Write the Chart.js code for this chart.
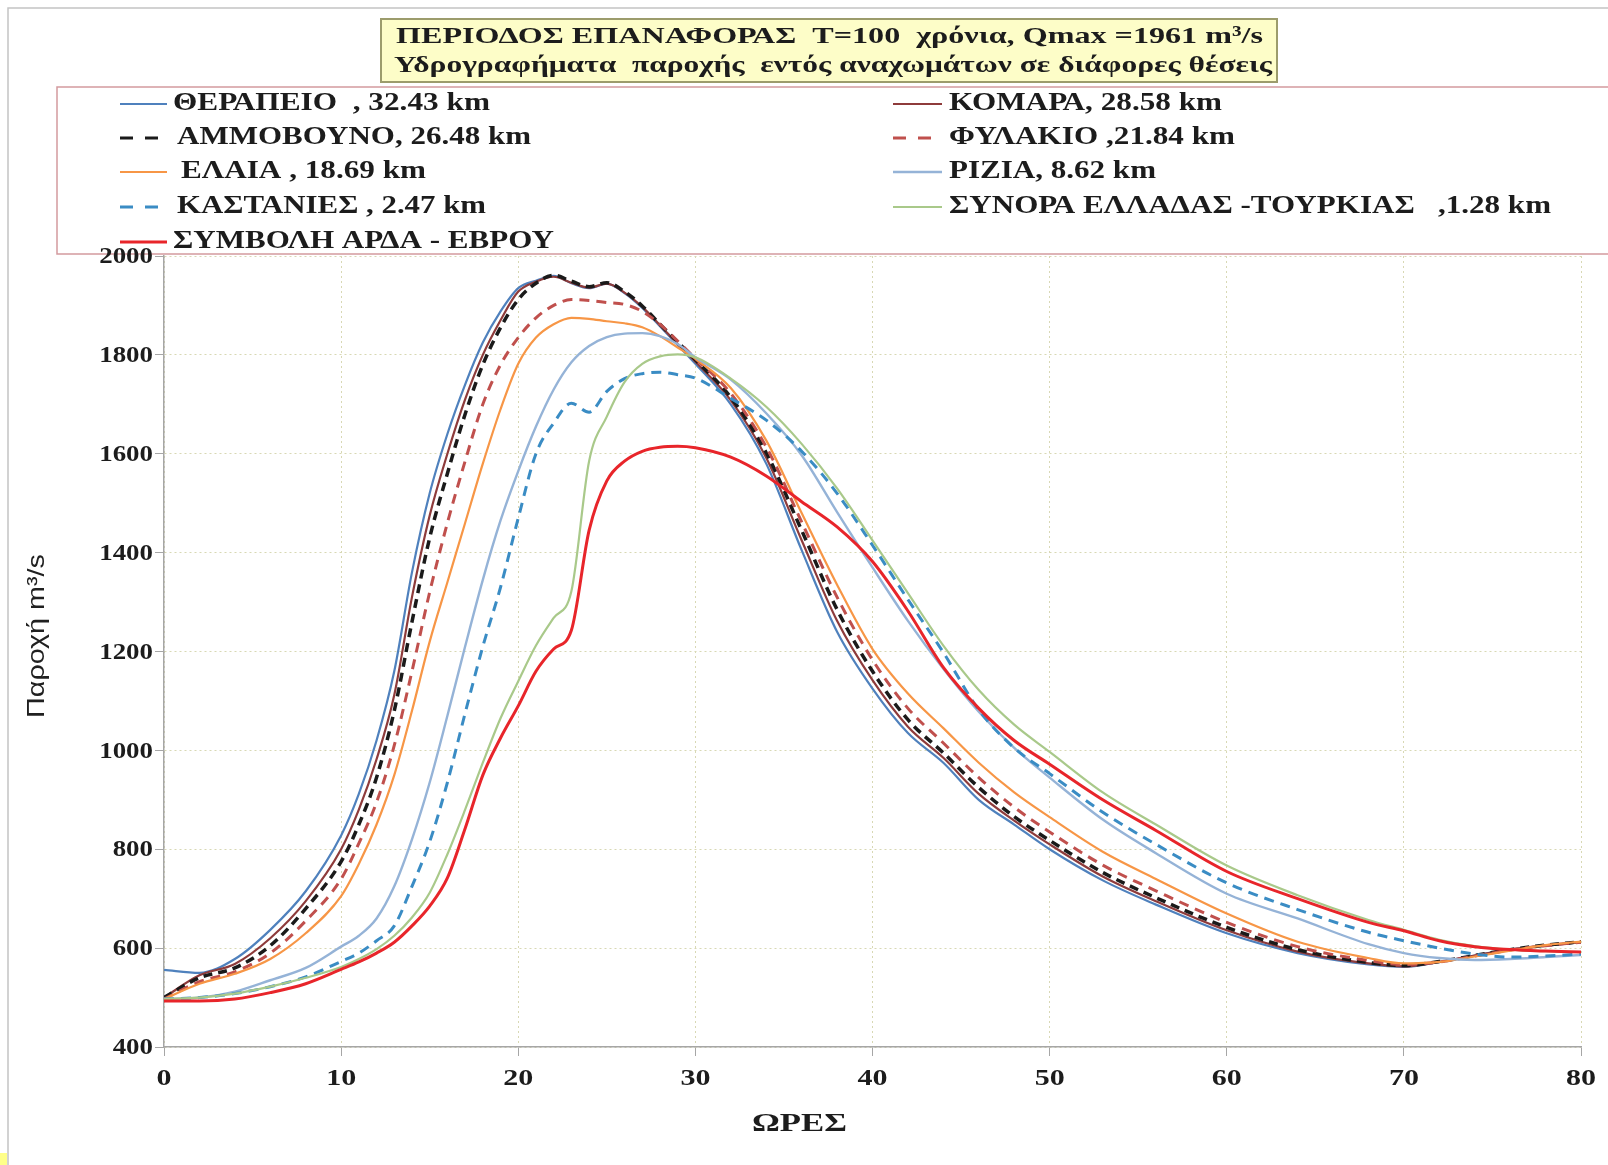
<!DOCTYPE html>
<html>
<head>
<meta charset="utf-8">
<script src="https://cdn.jsdelivr.net/npm/chart.js@4.4.0/dist/chart.umd.min.js"></script>
<style>
html,body{margin:0;padding:0;background:#fff;}
#wrap{width:1608px;height:1165px;position:relative;}
</style>
</head>
<body>
<div id="wrap"><canvas id="c" width="1608" height="1165"></canvas></div>
<script>
// ---------------- DATA ----------------
const hours = [0,2,4,6,8,10,11,12,13,14,15,16,17,18,19,20,21,22,23,24,25,26,27,28,29,30,32,34,36,38,40,42,44,46,48,50,53,56,60,64,68,70,72,74,76,78,80];

const qTherapeio  = [556,550,578,637,715,828,912,1020,1160,1360,1520,1640,1740,1825,1888,1935,1950,1960,1945,1935,1944,1925,1895,1858,1820,1782,1700,1580,1405,1240,1125,1035,975,900,850,800,737,688,630,590,567,562,572,585,597,605,612];
const qKomara     = [500,545,568,620,695,800,880,982,1112,1310,1475,1600,1710,1800,1870,1928,1948,1958,1946,1936,1944,1926,1897,1860,1822,1786,1708,1592,1425,1262,1142,1048,985,912,858,810,745,695,636,593,569,563,572,585,597,605,612];
const qAmmovouno  = [500,540,560,605,680,775,850,945,1080,1260,1430,1560,1680,1780,1855,1912,1945,1961,1949,1938,1946,1928,1899,1862,1826,1790,1714,1602,1445,1285,1160,1062,995,925,866,818,753,702,642,597,571,565,573,585,597,606,613];
const qFylakio    = [497,532,552,590,655,740,812,895,1010,1160,1320,1460,1585,1700,1780,1835,1875,1900,1912,1910,1906,1902,1888,1862,1828,1793,1722,1614,1462,1310,1183,1085,1015,945,885,835,768,716,652,603,575,567,572,584,596,605,612];
const qElaia      = [497,528,548,578,630,705,770,850,950,1080,1220,1340,1460,1580,1690,1782,1835,1862,1875,1873,1868,1864,1856,1838,1815,1792,1733,1627,1480,1335,1205,1115,1045,975,915,865,795,740,670,613,580,569,572,583,595,606,613];
const qRizia      = [497,500,512,535,560,603,625,660,725,820,935,1070,1210,1345,1465,1565,1655,1730,1785,1818,1836,1843,1844,1838,1822,1795,1750,1682,1597,1482,1370,1262,1165,1078,1005,945,860,792,710,660,608,590,580,576,578,582,586];
const qKastanies  = [497,500,508,522,542,573,590,615,645,725,815,935,1075,1210,1330,1470,1600,1662,1702,1684,1726,1752,1762,1765,1760,1753,1712,1668,1605,1520,1415,1305,1198,1082,1005,953,875,810,732,678,632,615,600,588,582,584,588];
const qSynora     = [497,500,508,522,540,562,578,598,625,662,712,790,880,975,1065,1140,1212,1268,1322,1585,1675,1745,1782,1797,1801,1795,1752,1695,1620,1530,1425,1318,1212,1122,1052,997,915,850,767,707,657,637,617,604,597,594,592];
const qSymvoli    = [493,493,497,510,528,557,572,590,612,645,685,742,842,950,1025,1090,1160,1205,1243,1445,1545,1585,1605,1613,1615,1612,1593,1555,1503,1452,1382,1282,1168,1085,1020,972,900,838,755,700,652,635,615,603,597,594,592];

const seriesNames = [
  "ΘΕΡΑΠΕΙΟ  , 32.43 km",
  "ΚΟΜΑΡΑ, 28.58 km",
  "ΑΜΜΟΒΟΥΝΟ, 26.48 km",
  "ΦΥΛΑΚΙΟ ,21.84 km",
  " ΕΛΑΙΑ , 18.69 km",
  "ΡΙΖΙΑ, 8.62 km",
  "ΚΑΣΤΑΝΙΕΣ , 2.47 km",
  "ΣΥΝΟΡΑ ΕΛΛΑΔΑΣ -ΤΟΥΡΚΙΑΣ   ,1.28 km",
  "ΣΥΜΒΟΛΗ ΑΡΔΑ - ΕΒΡΟΥ"
];
const seriesValues = [qTherapeio,qKomara,qAmmovouno,qFylakio,qElaia,qRizia,qKastanies,qSynora,qSymvoli];

const yTicks = [400,600,800,1000,1200,1400,1600,1800,2000];
const xTicks = [0,10,20,30,40,50,60,70,80];

const titleLine1 = "ΠΕΡΙΟΔΟΣ ΕΠΑΝΑΦΟΡΑΣ  T=100  χρόνια, Qmax =1961 m³/s";
const titleLine2 = "Υδρογραφήματα  παροχής  εντός αναχωμάτων σε διάφορες θέσεις";
const xTitle = "ΩΡΕΣ";
const yTitle = "Παροχή m³/s";

// ---------------- STYLES ----------------
const styles = [
  {color:'#4f81bd', width:2.2, dash:[]},
  {color:'#8e3b3b', width:2.2, dash:[]},
  {color:'#1a1a1a', width:3.5, dash:[9,6]},
  {color:'#c0504d', width:3,   dash:[10,7]},
  {color:'#f79646', width:2.2, dash:[]},
  {color:'#95b3d7', width:2.4, dash:[]},
  {color:'#3a8cc4', width:3,   dash:[10,7]},
  {color:'#a9c98a', width:2.2, dash:[]},
  {color:'#e8252a', width:3,   dash:[]}
];

const datasets = seriesValues.map((arr, i) => ({
  label: seriesNames[i],
  data: hours.map((h, k) => ({x: h, y: arr[k]})),
  borderColor: styles[i].color,
  borderWidth: styles[i].width,
  borderDash: styles[i].dash,
  pointRadius: 0,
  fill: false,
  cubicInterpolationMode: 'monotone',
  order: seriesValues.length - i
}));

// ---------------- HELPERS ----------------
function drawFit(ctx, str, x0, x1, y, font, color) {
  ctx.save();
  ctx.font = font; ctx.fillStyle = color; ctx.textBaseline = 'middle'; ctx.textAlign = 'left';
  const w = ctx.measureText(str).width;
  ctx.translate(x0, y); ctx.scale((x1 - x0) / w, 1); ctx.fillText(str, 0, 0);
  ctx.restore();
}
function drawStretched(ctx, str, x, y, font, sx, align, color) {
  ctx.save();
  ctx.font = font; ctx.fillStyle = color; ctx.textBaseline = 'middle'; ctx.textAlign = 'left';
  const w = ctx.measureText(str).width * sx;
  const x0 = align === 'right' ? x - w : (align === 'center' ? x - w / 2 : x);
  ctx.translate(x0, y); ctx.scale(sx, 1); ctx.fillText(str, 0, 0);
  ctx.restore();
}

const SERIF = '"Liberation Serif", "DejaVu Serif", serif';
const TXT = '#1c1c1c';

const decor = {
  id: 'decor',
  beforeDraw(chart) {
    const ctx = chart.ctx;
    ctx.save(); ctx.fillStyle = '#ffffff'; ctx.fillRect(0, 0, chart.width, chart.height); ctx.restore();
  },
  afterDraw(chart) {
    const ctx = chart.ctx;
    const xs = chart.scales.x, ys = chart.scales.y;
    ctx.save();
    // page frame
    ctx.strokeStyle = '#c4c4c4'; ctx.lineWidth = 1.5;
    ctx.beginPath(); ctx.moveTo(8, 1165); ctx.lineTo(8, 8); ctx.lineTo(1608, 8); ctx.stroke();
    ctx.fillStyle = '#ffff88'; ctx.fillRect(0, 1153, 7, 12);

    // title box
    ctx.fillStyle = '#fdfdc8'; ctx.fillRect(381, 19, 896, 63);
    ctx.strokeStyle = '#9c9c6c'; ctx.lineWidth = 2; ctx.strokeRect(381, 19, 896, 63);
    drawFit(ctx, titleLine1, 396, 1263, 37, 'bold 24px ' + SERIF, TXT);
    drawFit(ctx, titleLine2, 394, 1272, 66, 'bold 24px ' + SERIF, TXT);

    // legend box
    ctx.strokeStyle = '#d39a9e'; ctx.lineWidth = 1.5;
    ctx.strokeRect(57, 87, 1570, 167);

    const rowsY = [104, 138, 172, 207, 242];
    const leftItems = [0, 2, 4, 6, 8];
    const rightItems = [1, 3, 5, 7];
    const leftText = [[173, 490], [177, 531], [181, 426], [177, 486], [173, 554]];
    const rightText = [[949, 1222], [949, 1235], [949, 1156], [949, 1551]];
    const drawSample = (idx, x0, x1, y) => {
      const s = styles[idx];
      ctx.save();
      ctx.strokeStyle = s.color;
      ctx.lineWidth = Math.min(s.width, 3);
      if (s.dash.length) ctx.setLineDash([13, 12]); else ctx.setLineDash([]);
      ctx.beginPath(); ctx.moveTo(x0, y); ctx.lineTo(x1, y); ctx.stroke();
      ctx.restore();
    };
    leftItems.forEach((idx, r) => {
      const y = rowsY[r];
      drawSample(idx, 120, styles[idx].dash.length ? 161 : 167, y);
      drawFit(ctx, seriesNames[idx].trim(), leftText[r][0], leftText[r][1], y, 'bold 25px ' + SERIF, TXT);
    });
    rightItems.forEach((idx, r) => {
      const y = rowsY[r];
      drawSample(idx, 893, styles[idx].dash.length ? 935 : 942, y);
      drawFit(ctx, seriesNames[idx].trim(), rightText[r][0], rightText[r][1], y, 'bold 25px ' + SERIF, TXT);
    });

    // tick labels
    ys.ticks.forEach(t => {
      const y = ys.getPixelForValue(t.value);
      drawStretched(ctx, String(t.value), 153, y + 1, 'bold 24px ' + SERIF, 1.12, 'right', TXT);
    });
    xs.ticks.forEach(t => {
      const x = xs.getPixelForValue(t.value);
      drawStretched(ctx, String(t.value), x, 1079, 'bold 24px ' + SERIF, 1.25, 'center', TXT);
    });

    // axis titles
    drawFit(ctx, xTitle, 752, 847, 1125, 'bold 25px ' + SERIF, TXT);
    ctx.save();
    ctx.translate(37, 636); ctx.rotate(-Math.PI / 2);
    drawFit(ctx, yTitle, -82, 82, 0, '24px "Liberation Sans", Arial, sans-serif', '#202020');
    ctx.restore();

    ctx.restore();
  }
};

const gridCommon = {
  color: '#d8d8b4', lineWidth: 1, drawTicks: true, tickLength: 9,
  tickColor: '#a6a6a6', tickWidth: 1, tickBorderDash: []
};

new Chart(document.getElementById('c'), {
  type: 'line',
  data: { datasets },
  options: {
    responsive: false,
    animation: false,
    devicePixelRatio: 1,
    layout: { padding: { top: 256, right: 27, left: 0, bottom: 0 } },
    plugins: { legend: { display: false }, tooltip: { enabled: false }, title: { display: false } },
    scales: {
      x: {
        type: 'linear', min: 0, max: 80,
        afterBuildTicks: s => { s.ticks = xTicks.map(v => ({ value: v })); },
        afterFit: s => { s.height = 118; },
        ticks: { display: false },
        grid: gridCommon,
        border: { display: true, color: '#a6a6a6', width: 1.5, dash: [2, 3] }
      },
      y: {
        type: 'linear', min: 400, max: 2000,
        afterBuildTicks: s => { s.ticks = yTicks.map(v => ({ value: v })); },
        afterFit: s => { s.width = 164; },
        ticks: { display: false },
        grid: gridCommon,
        border: { display: true, color: '#a6a6a6', width: 1.5, dash: [2, 3] }
      }
    }
  },
  plugins: [decor]
});
</script>
</body>
</html>
